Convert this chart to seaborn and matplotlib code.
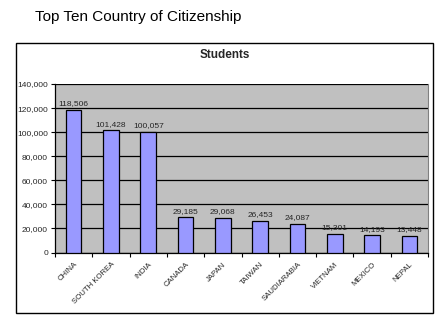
import matplotlib
matplotlib.use("Agg")
import matplotlib.pyplot as plt
from matplotlib.patches import Rectangle
import seaborn as sns
import pandas as pd
import numpy as np

countries = ["CHINA", "SOUTH KOREA", "INDIA", "CANADA", "JAPAN",
             "TAIWAN", "SAUDIARABIA", "VIETNAM", "MEXICO", "NEPAL"]
students = [118506, 101428, 100057, 29185, 29068,
            26453, 24087, 15301, 14193, 13448]
y_ticks = [0, 20000, 40000, 60000, 80000, 100000, 120000, 140000]

df = pd.DataFrame({"country": countries, "students": students})

sns.set_theme(style="white")
plt.rcParams["font.family"] = ["Liberation Sans", "DejaVu Sans"]

fig = plt.figure(figsize=(4.4, 3.3), dpi=100)
fig.patch.set_facecolor("white")

# chart frame
fig.add_artist(Rectangle((16 / 440, 17 / 330), 417 / 440, 270 / 330,
                         transform=fig.transFigure, fill=False,
                         edgecolor="black", linewidth=1.0))

fig.text(35 / 440, 1 - 17 / 330, "Top Ten Country of Citizenship",
         fontsize=11, ha="left", va="center", color="black")
fig.text((16 + 433) / 2 / 440, 1 - 55 / 330, "Students",
         fontsize=8.5, fontweight="bold", ha="center", va="center")

ax = fig.add_axes([55 / 440, (330 - 252.5) / 330, 373 / 440, 168.5 / 330])
ax.set_facecolor("#C0C0C0")

sns.barplot(data=df, x="country", y="students", ax=ax, color="#9999FF",
            saturation=1, edgecolor="black", linewidth=0.9, width=0.42,
            zorder=3)

ax.set_ylim(0, 140000)
ax.set_xlim(-0.5, len(countries) - 0.5)
ax.set_yticks(y_ticks)
ax.set_yticklabels([f"{v:,}" for v in y_ticks], fontsize=6)
ax.yaxis.grid(True, color="black", linewidth=0.9, zorder=1)
ax.set_axisbelow(True)

# category labels centred, tick marks between categories
ax.set_xticks(range(len(countries)))
ax.set_xticklabels(countries, rotation=45, ha="right", rotation_mode="anchor",
                   fontsize=5.6)
ax.set_xticks(np.arange(-0.5, len(countries)), minor=True)
ax.tick_params(axis="x", which="major", length=0, pad=6)
ax.tick_params(axis="x", which="minor", length=3, width=0.8, color="black",
               direction="out", bottom=True)
ax.tick_params(axis="y", length=3, width=0.8, color="black", direction="out",
               left=True, pad=2)
ax.set_xlabel("")
ax.set_ylabel("")

for side in ["left", "bottom"]:
    ax.spines[side].set_color("black")
    ax.spines[side].set_linewidth(0.9)
ax.spines["top"].set_visible(False)
ax.spines["right"].set_color("#808080")
ax.spines["right"].set_linewidth(0.8)

ax.bar_label(ax.containers[0], labels=[f"{v:,}" for v in students],
             fontsize=6, padding=2)

fig.savefig("out.png", dpi=100)
